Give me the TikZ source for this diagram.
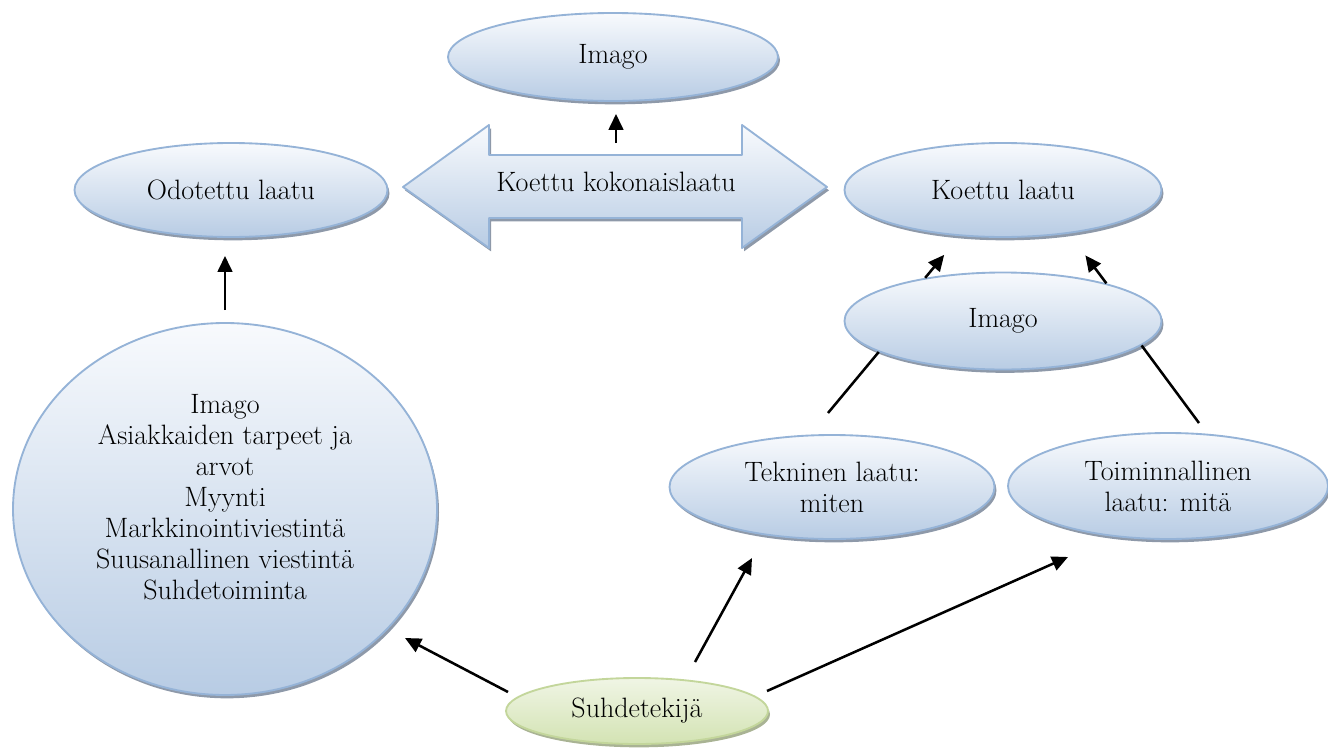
\documentclass[tikz,border=0pt]{standalone}
\usetikzlibrary{shapes.geometric, shadows, arrows.meta}
\definecolor{rim}{HTML}{95B3D7}
\definecolor{paletop}{HTML}{F8FAFD}
\definecolor{palebot}{HTML}{B8CCE4}
\definecolor{shade}{HTML}{8E99A9}
\definecolor{greenrim}{HTML}{C3D69B}
\definecolor{greentop}{HTML}{F0F5E5}
\definecolor{greenbot}{HTML}{D3E3B3}
\definecolor{greenshade}{HTML}{A9B394}
\begin{document}
\begin{tikzpicture}[x=0.75pt, y=-0.75pt, font=\fontsize{21}{23.25}\selectfont, line join=round, >={Triangle[length=12pt,width=11pt]},
  blob/.style={ellipse, draw=rim, line width=1.4pt, top color=paletop, bottom color=palebot, inner sep=0pt, align=center,
    drop shadow={shadow xshift=1.5pt, shadow yshift=-2.5pt, fill=shade, opacity=1}},
  greenblob/.style={ellipse, draw=greenrim, line width=1.4pt, top color=greentop, bottom color=greenbot, inner sep=0pt,
    drop shadow={shadow xshift=1.5pt, shadow yshift=-2.5pt, fill=greenshade, opacity=1}},
  arr/.style={->, line width=1.9pt}]
\useasboundingbox (0,0) rectangle (1328,753);
% ellipses
\node[blob, minimum width=247.5pt, minimum height=66pt] (imago1) at (613,57) {Imago};
\node[blob, minimum width=234.75pt, minimum height=70.5pt] (odot) at (231,190) {Odotettu laatu};
\node[blob, minimum width=237.75pt, minimum height=70.5pt] (koettu) at (1003,190) {Koettu laatu};
\node[blob, minimum width=237.75pt, minimum height=72.75pt] (imago2) at (1003,321) {Imago};
\node[blob, minimum width=243.75pt, minimum height=78pt] (tekn) at (832,487) {Tekninen laatu:\\ miten};
\node[blob, minimum width=240pt, minimum height=79.5pt] (toim) at (1168,486) {Toiminnallinen\\ laatu: mitä};
\node[blob, minimum width=318pt, minimum height=279pt] (iso) at (225,509) {};
\node[align=center] (isotext) at (225,497) {Imago\\ Asiakkaiden tarpeet ja\\ arvot\\ Myynti\\ Markkinointiviestintä\\ Suusanallinen viestintä\\ Suhdetoiminta};
\node[greenblob, minimum width=196.5pt, minimum height=49.5pt] (suhde) at (637,711) {Suhdetekijä};
% double arrow
\path[draw=rim, line width=1.4pt, top color=paletop, bottom color=palebot,
  drop shadow={shadow xshift=1.5pt, shadow yshift=-2.5pt, fill=shade, opacity=1}]
  (403,187) -- (489,125) -- (489,155) -- (742,155) -- (742,125) -- (827,187)
  -- (742,248) -- (742,218) -- (489,218) -- (489,248) -- cycle;
\node (kokon) at (616,182) {Koettu kokonaislaatu};
% free ends
\coordinate (k1) at (616,143);
\coordinate (t1) at (828,413);
\coordinate (t2) at (1199,423);
\coordinate (s1) at (508,692);
\coordinate (s2) at (695,662);
\coordinate (s3) at (767,691);
\coordinate (c1) at (405,638);
\coordinate (c2) at (752,558);
\coordinate (c3) at (1068,557);
% connectors
\draw[arr, shorten >=9pt] (k1) -- (k1 |- imago1.south);
\draw[arr, shorten <=9pt, shorten >=13.5pt] (iso.north) -- (iso.north |- odot.south);
\draw[arr] (imago2.151) -- ++(19,-23);
\draw[arr] (imago2.20) -- ++(-21,-28);
\draw[line width=1.9pt] (t1) -- (imago2.194);
\draw[line width=1.9pt] (t2) -- (imago2.-10);
\draw[arr] (s1) -- (c1);
\draw[arr] (s2) -- (c2);
\draw[arr] (s3) -- (c3);
\end{tikzpicture}
\end{document}
